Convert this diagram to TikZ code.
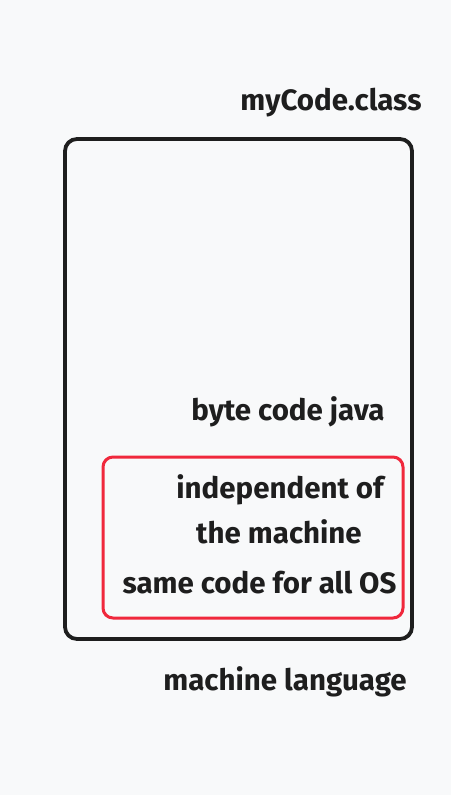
\documentclass[tikz,border=0pt]{standalone}
\usepackage{fontspec}
\setmainfont{Fira Sans}
\definecolor{bg}{RGB}{248,249,250}
\definecolor{ink}{RGB}{30,30,30}
\definecolor{redline}{RGB}{240,40,60}
\begin{document}
\begin{tikzpicture}[x=1pt,y=-1pt,
  lbl/.style={font=\bfseries\fontsize{29.5}{34}\selectfont, text=ink, inner sep=0pt, anchor=center},
  outerbox/.style={draw=ink, line width=3.8pt, rounded corners=12pt},
  innerbox/.style={draw=redline, line width=3pt, rounded corners=10pt}]
\fill[bg] (0,0) rectangle (451,795);
\useasboundingbox (0,0) rectangle (451,795);
\draw[outerbox] (65,139) rectangle (412,639);
\draw[innerbox] (103,457) rectangle (403,618);
\node[lbl] (cls) at (331,103) {myCode.class};
\node[lbl] (byte) at (288,412) {byte code java};
\node[lbl] (ind1) at (280,490) {independent of};
\node[lbl] (ind2) at (279,532) {the machine};
\node[lbl] (same) at (259.5,583) {same code for all OS};
\node[lbl] (mach) at (285,682) {machine language};
\end{tikzpicture}
\end{document}
